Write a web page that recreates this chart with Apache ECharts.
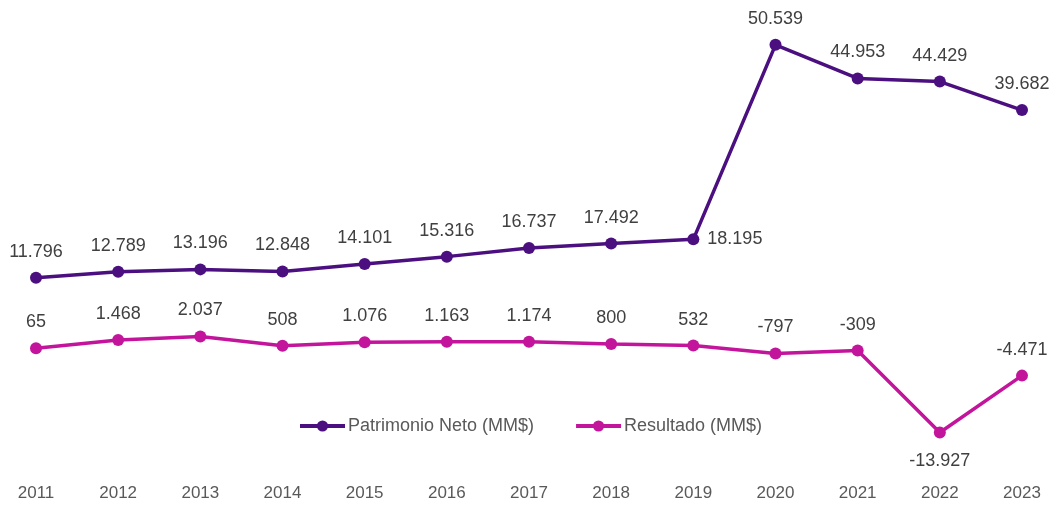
<!DOCTYPE html>
<html>
<head>
<meta charset="utf-8">
<script src="https://cdn.jsdelivr.net/npm/echarts@6/dist/echarts.min.js"></script>
<style>
  html, body { margin: 0; padding: 0; background: #fff; }
  #chart { width: 1058px; height: 506px; }
</style>
</head>
<body>
<div id="chart"></div>
<script>
var years = ['2011', '2012', '2013', '2014', '2015', '2016', '2017', '2018', '2019', '2020', '2021', '2022', '2023'];
var patrimonio = [11796, 12789, 13196, 12848, 14101, 15316, 16737, 17492, 18195, 50539, 44953, 44429, 39682];
var resultado = [65, 1468, 2037, 508, 1076, 1163, 1174, 800, 532, -797, -309, -13927, -4471];
var seriesNames = ['Patrimonio Neto (MM$)', 'Resultado (MM$)'];

// formato con punto de miles
function fmt(v) {
  var s = Math.abs(v).toString().replace(/\B(?=(\d{3})+(?!\d))/g, '.');
  return (v < 0 ? '-' : '') + s;
}

var labelStyle = {
  show: true,
  position: 'top',
  distance: 11,
  color: '#404040',
  fontSize: 18,
  fontFamily: 'Liberation Sans',
  formatter: function (p) { return fmt(p.value); }
};

var patData = patrimonio.map(function (v, i) {
  if (i === 8) {
    return { value: v, label: { position: 'right', distance: 8 } };
  }
  return v;
});
var resData = resultado.map(function (v, i) {
  if (i === 11) {
    return { value: v, label: { position: 'bottom', distance: 14 } };
  }
  return v;
});

var chart = echarts.init(document.getElementById('chart'));
chart.setOption({
  backgroundColor: '#fff',
  animation: false,
  grid: { left: 36, right: 36, top: 18, bottom: 37 },
  legend: {
    left: 293,
    top: 412,
    itemWidth: 45,
    itemHeight: 14,
    itemGap: 40,
    lineStyle: { width: 4 },
    textStyle: { color: '#595959', fontSize: 18, fontFamily: 'Liberation Sans', padding: [0, 0, 0, -2] },
    data: seriesNames
  },
  xAxis: {
    type: 'category',
    data: years,
    boundaryGap: false,
    axisLine: { show: false },
    axisTick: { show: false },
    axisLabel: { color: '#595959', fontSize: 17, margin: 16, fontFamily: 'Liberation Sans' }
  },
  yAxis: {
    type: 'value',
    min: -20000,
    max: 55000,
    show: false,
    splitLine: { show: false }
  },
  series: [
    {
      name: seriesNames[0],
      type: 'line',
      data: patData,
      color: '#4B0F80',
      symbol: 'circle',
      symbolSize: 12,
      lineStyle: { width: 3.5, color: '#4B0F80' },
      label: labelStyle
    },
    {
      name: seriesNames[1],
      type: 'line',
      data: resData,
      color: '#C3159C',
      symbol: 'circle',
      symbolSize: 12,
      lineStyle: { width: 3.5, color: '#C3159C' },
      label: labelStyle
    }
  ]
});
</script>
</body>
</html>
